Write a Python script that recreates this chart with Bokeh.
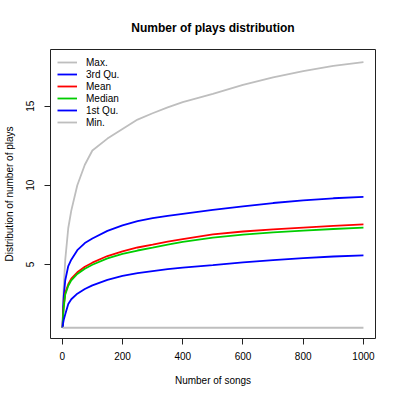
from bokeh.plotting import figure
from bokeh.models import Range1d, FixedTicker, Legend, LegendItem
from bokeh.embed import file_html
from bokeh.resources import INLINE

songs = [1, 3, 5, 10, 20, 30, 50, 75, 100, 150, 200, 250, 300, 350, 400, 500, 600, 700, 800, 900, 1000]
max_plays = [1, 2.5, 3.6, 5.3, 7.3, 8.4, 10.0, 11.3, 12.2, 12.95, 13.55, 14.15, 14.55, 14.92, 15.25, 15.78, 16.35, 16.82, 17.22, 17.55, 17.78]
q3_plays = [1, 2.3, 3.0, 4.0, 4.9, 5.3, 5.9, 6.35, 6.64, 7.12, 7.47, 7.73, 7.92, 8.07, 8.2, 8.45, 8.67, 8.88, 9.05, 9.18, 9.27]
mean_plays = [1, 1.9, 2.4, 3.2, 3.75, 4.1, 4.5, 4.85, 5.11, 5.53, 5.83, 6.07, 6.25, 6.44, 6.6, 6.9, 7.08, 7.22, 7.33, 7.43, 7.53]
median_plays = [1, 1.8, 2.3, 3.1, 3.65, 4.0, 4.4, 4.73, 4.98, 5.38, 5.66, 5.88, 6.06, 6.25, 6.42, 6.7, 6.88, 7.03, 7.14, 7.24, 7.33]
q1_plays = [1, 1.3, 1.5, 1.85, 2.5, 2.8, 3.15, 3.45, 3.68, 4.02, 4.27, 4.45, 4.58, 4.7, 4.8, 4.95, 5.13, 5.27, 5.4, 5.5, 5.57]
min_plays = [1] * len(songs)

x_ticks = [0, 200, 400, 600, 800, 1000]
y_ticks = [5, 10, 15]
series_names = ["Max.", "3rd Qu.", "Mean", "Median", "1st Qu.", "Min."]
series_colors = ["#BEBEBE", "#0000FF", "#FF0000", "#00CD00", "#0000FF", "#BEBEBE"]

FONT = "Liberation Sans"

p = figure(width=384, height=392, output_backend="svg", toolbar_location=None,
           x_range=Range1d(-39, 1040), y_range=Range1d(0.32, 18.58),
           min_border_left=49, min_border_right=9, min_border_top=49, min_border_bottom=54,
           title="Number of plays distribution")
p.title.align = "center"
p.title.text_font = FONT
p.title.text_font_size = "12px"
p.title.text_font_style = "bold"
p.title.text_color = "black"
p.title.standoff = 30

p.xgrid.visible = False
p.ygrid.visible = False
p.outline_line_color = "#222222"
p.outline_line_width = 1
p.background_fill_color = "white"
p.border_fill_color = "white"

for ax in (p.xaxis[0], p.yaxis[0]):
    ax.axis_line_color = None
    ax.major_tick_line_color = "#222222"
    ax.major_tick_out = 6
    ax.major_tick_in = 0
    ax.minor_tick_line_color = None
    ax.major_label_text_font = FONT
    ax.major_label_text_font_size = "10px"
    ax.major_label_text_color = "black"
    ax.axis_label_text_font = FONT
    ax.axis_label_text_font_size = "10px"
    ax.axis_label_text_font_style = "normal"
    ax.axis_label_text_color = "black"

p.xaxis.ticker = FixedTicker(ticks=x_ticks)
p.yaxis.ticker = FixedTicker(ticks=y_ticks)
p.xaxis.axis_label = "Number of songs"
p.yaxis.axis_label = "Distribution of number of plays"
p.xaxis.major_label_standoff = 7
p.xaxis.axis_label_standoff = 12
p.yaxis.major_label_orientation = "vertical"
p.yaxis.major_label_standoff = 10
p.yaxis.axis_label_standoff = 9

series = [max_plays, q3_plays, mean_plays, median_plays, q1_plays, min_plays]
items = []
for name, color, ys in zip(series_names, series_colors, series):
    r = p.line(songs, ys, line_color=color, line_width=1.8)
    items.append(LegendItem(label=name, renderers=[r]))

legend = Legend(items=items, location="top_left")
legend.border_line_color = None
legend.background_fill_alpha = 0
legend.margin = 7
legend.padding = 6
legend.spacing = 0
legend.glyph_height = 12
legend.glyph_width = 20
legend.label_height = 12
legend.label_standoff = 9
legend.label_text_font = FONT
legend.label_text_font_size = "10px"
legend.label_text_color = "black"
p.add_layout(legend)

open("out.html", "w").write(file_html(p, INLINE))
